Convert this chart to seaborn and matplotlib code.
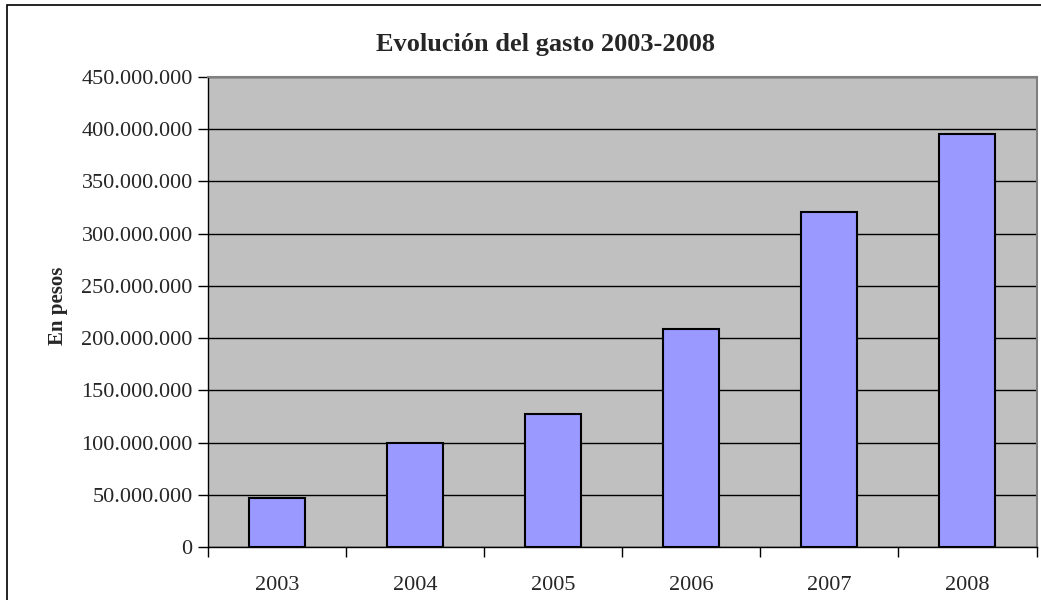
import matplotlib
matplotlib.use("Agg")
import matplotlib.pyplot as plt
import matplotlib.ticker as mticker
from matplotlib.patches import Rectangle
import seaborn as sns
import pandas as pd

years = ["2003", "2004", "2005", "2006", "2007", "2008"]
gasto = [46600000, 99800000, 127800000, 208800000, 321200000, 395200000]
yticks = [0, 50000000, 100000000, 150000000, 200000000, 250000000,
          300000000, 350000000, 400000000, 450000000]

df = pd.DataFrame({"year": years, "gasto": gasto})

sns.set_theme(style="white")
plt.rcParams["font.family"] = ["Liberation Serif", "DejaVu Serif"]

fig = plt.figure(figsize=(10.41, 6.0), dpi=100)
ax = fig.add_axes([208 / 1041, 1 - 547 / 600, (1036.5 - 208) / 1041, (547 - 77) / 600])

sns.barplot(data=df, x="year", y="gasto", ax=ax, color="#9999FF",
            saturation=1, width=0.405, edgecolor="black", linewidth=1.5, zorder=3)

ax.set_facecolor("#C0C0C0")
ax.set_ylim(0, 450000000)
ax.set_xlim(-0.5, len(years) - 0.5)
ax.set_yticks(yticks)
ax.yaxis.set_major_formatter(mticker.FuncFormatter(lambda v, p: f"{int(v):,}".replace(",", ".")))
ax.grid(axis="y", color="black", linewidth=1.0, zorder=0)
ax.set_axisbelow(True)

# x ticks between categories
ax.set_xticks([i - 0.5 for i in range(len(years) + 1)], minor=False)
ax.set_xticklabels([])
ax.set_xticks(range(len(years)), minor=True)
ax.set_xticklabels(years, minor=True)
ax.tick_params(axis="x", which="major", direction="out", length=7, width=1, color="black", bottom=True)
ax.tick_params(axis="x", which="minor", length=0, labelsize=16, pad=21)
ax.tick_params(axis="y", direction="out", length=7, width=1, color="black", left=True, labelsize=16, pad=4)

for s in ["left", "bottom"]:
    ax.spines[s].set_color("black")
    ax.spines[s].set_linewidth(1.0)
for s in ["top", "right"]:
    ax.spines[s].set_color("#808080")
    ax.spines[s].set_linewidth(1.5)

ax.set_xlabel("")
ax.set_ylabel("En pesos", fontsize=15, fontweight="bold")
ax.yaxis.set_label_coords(-0.169, (547 - 306) / (547 - 77))
fig.text(546 / 1041, 1 - 45 / 600, "Evolución del gasto 2003-2008", ha="center", va="center",
         fontsize=19, fontweight="bold")

fig.patches.append(Rectangle((7 / 1041, -0.1), 1.2, 1 - 5 / 600 + 0.1, transform=fig.transFigure,
                             fill=False, edgecolor="black", linewidth=1.2))

fig.savefig("out.png", dpi=100, facecolor="white")
